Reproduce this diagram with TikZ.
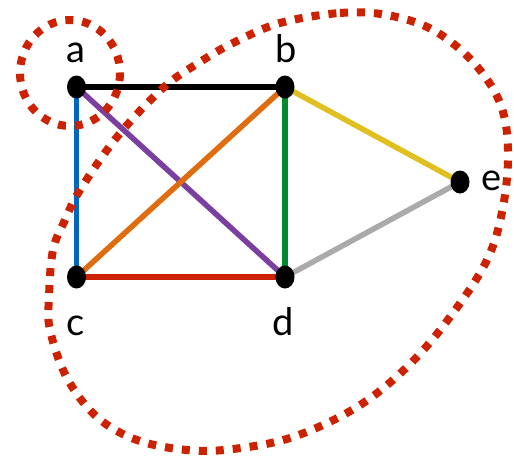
\documentclass[tikz,border=0pt]{standalone}
\usepackage{fontspec}
\setmainfont{Lato}
\usetikzlibrary{shapes.geometric}
\definecolor{eblue}{HTML}{0066C0}
\definecolor{epurple}{HTML}{7B3FA0}
\definecolor{eorange}{HTML}{E06C10}
\definecolor{egreen}{HTML}{008A30}
\definecolor{ered}{HTML}{CC2200}
\definecolor{eyellow}{HTML}{E0C020}
\definecolor{egray}{HTML}{AAAAAA}
\definecolor{dotred}{HTML}{CC2200}
\tikzset{
  vtx/.style={ellipse, fill=black, inner sep=0pt, minimum width=19pt, minimum height=23pt},
  lbl/.style={anchor=base, font=\fontsize{38}{40}\selectfont, inner sep=0pt},
  edge/.style={line width=5.5pt},
  grp/.style={draw=dotred, line width=8pt, dash pattern=on 8pt off 9pt}
}
\begin{document}
\begin{tikzpicture}[x=1pt,y=-1pt]
\useasboundingbox (0,0) rectangle (514,459);
\coordinate (a) at (76.5,87);
\coordinate (b) at (285,87);
\coordinate (c) at (76.5,277);
\coordinate (d) at (285,277);
\coordinate (e) at (460,182);
\draw[edge, black] (a) -- (b);
\draw[edge, eblue] (a) -- (c);
\draw[edge, epurple] (a) -- (d);
\draw[edge, eorange] (b) -- (c);
\draw[edge, egreen] (b) -- (d);
\draw[edge, ered] (c) -- (d);
\draw[edge, eyellow] (b) -- (e);
\draw[edge, egray] (d) -- (e);
\draw[grp] (70,73) ellipse [x radius=50, y radius=53];
\draw[grp] plot[smooth cycle, tension=0.6] coordinates {
  (280,23) (340,13) (387,15) (433,30) (473,62) (500,103) (508,150)
  (503,207) (487,260) (450,317) (408,366) (357,407) (293,437)
  (233,449) (187,450) (137,440) (97,417) (67,378) (50,330) (49,297)
  (53,250) (65,220) (80,190) (117,137) (163,88) (200,62) (233,43)};
\node[vtx] (na) at (a) {};
\node[vtx] (nb) at (b) {};
\node[vtx] (nc) at (c) {};
\node[vtx] (nd) at (d) {};
\node[vtx] (ne) at (e) {};
\node[lbl] (la) at (76,62) {a};
\node[lbl] (lb) at (286,62) {b};
\node[lbl] (lc) at (76,335) {c};
\node[lbl] (ld) at (283,335) {d};
\node[lbl] (le) at (492,190) {e};
\end{tikzpicture}
\end{document}
